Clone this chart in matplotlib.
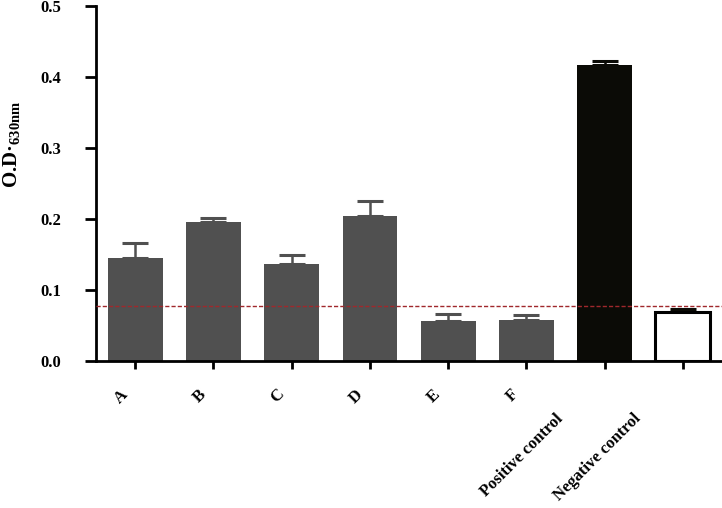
import matplotlib
matplotlib.use("Agg")
import matplotlib.pyplot as plt
import matplotlib.transforms as mtransforms
import numpy as np

categories = ["A", "B", "C", "D", "E", "F", "Positive control", "Negative control"]
values = [0.145, 0.196, 0.137, 0.205, 0.057, 0.058, 0.417, 0.069]
errors = [0.022, 0.005, 0.013, 0.021, 0.009, 0.007, 0.005, 0.004]
cutoff = 0.0775
yticks = [0.0, 0.1, 0.2, 0.3, 0.4, 0.5]

plt.rcParams['font.family'] = ['Liberation Serif', 'DejaVu Serif']
plt.rcParams['font.weight'] = 'bold'
plt.rcParams['mathtext.fontset'] = 'custom'
plt.rcParams['mathtext.rm'] = 'Liberation Serif:bold'
plt.rcParams['mathtext.bf'] = 'Liberation Serif:bold'
plt.rcParams['mathtext.it'] = 'Liberation Serif:bold'

fig = plt.figure(figsize=(7.22, 5.08), dpi=100)
ax = fig.add_axes([0.133, 0.289, 0.867, 0.699])

x = np.arange(len(categories))
facecolors = ['#505050'] * 6 + ['#0b0b06', 'white']
edgecolors = ['#505050'] * 6 + ['#0b0b06', 'black']
lws = [0] * 7 + [2.2]
for i in range(len(categories)):
    ax.bar(x[i], values[i], width=0.70, color=facecolors[i], edgecolor=edgecolors[i],
           linewidth=lws[i], zorder=2)
    ecol = '#505050' if i < 6 else '#0b0b06'
    ax.errorbar(x[i], values[i], yerr=[[0], [errors[i]]], fmt='none', ecolor=ecol,
                elinewidth=1.8, capsize=9.7, capthick=2.2, zorder=1)

ax.axhline(cutoff, color='#a0282c', linestyle=(0, (3, 1.5)), linewidth=1.0, zorder=3)

ax.set_xlim(-0.5, 7.5)
ax.set_ylim(0, 0.5)
ax.set_yticks(yticks)
ax.set_yticklabels([f"{t:.1f}" for t in yticks])
ax.set_xticks(x)
ax.set_xticklabels([])
ax.tick_params(axis='x', length=6, width=2)
ax.tick_params(axis='y', length=8, width=2, pad=17, labelsize=12)
for s in ['top', 'right']:
    ax.spines[s].set_visible(False)
for s in ['left', 'bottom']:
    ax.spines[s].set_linewidth(2)

# rotated category labels
for i, lab in enumerate(categories):
    long = len(lab) > 3
    dx = -44 if long else -10
    dy = -55 if long else -31
    tr = mtransforms.offset_copy(ax.get_xaxis_transform(), fig=fig, x=dx, y=dy, units='dots')
    ax.text(x[i], 0, lab, transform=tr, rotation=45, ha='right', va='center',
            rotation_mode='anchor', fontsize=12, fontweight='bold')

ax.set_ylabel("O.D·$_{\\mathbf{630nm}}$", fontsize=15, fontweight='bold')
ax.yaxis.set_label_coords(-0.118, 0.61)

fig.savefig("out.png", dpi=100)
